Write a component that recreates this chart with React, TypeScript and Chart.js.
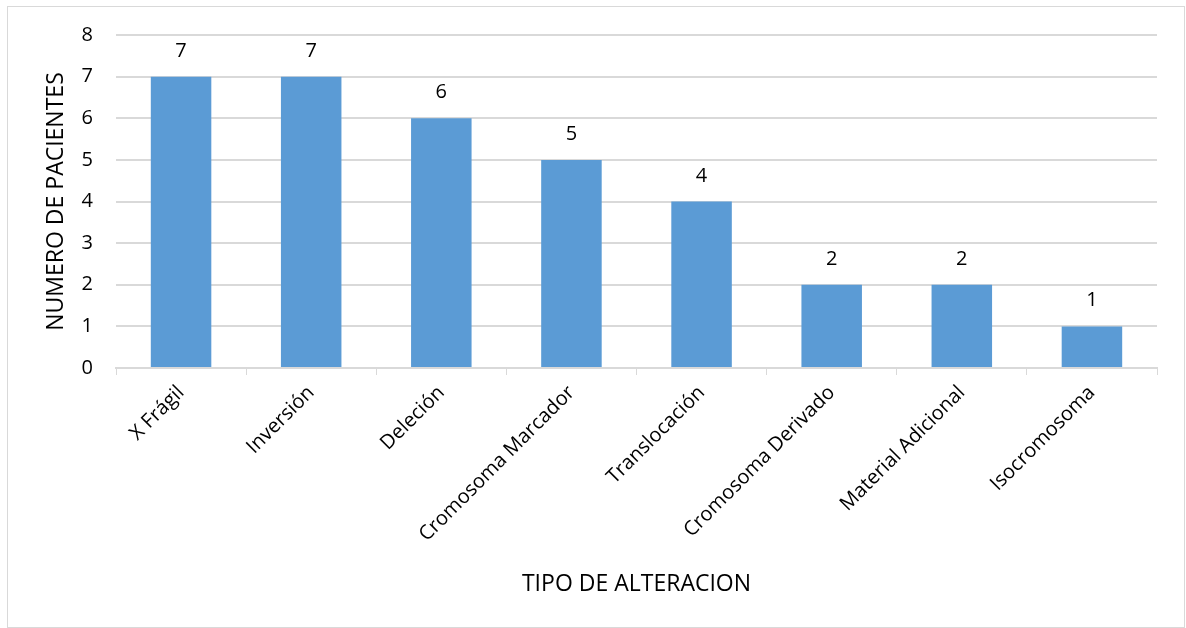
import React, { useEffect, useRef } from "react";
import { Chart, registerables } from "chart.js";

Chart.register(...registerables);

const categories = [
  "X Frágil",
  "Inversión",
  "Deleción",
  "Cromosoma Marcador",
  "Translocación",
  "Cromosoma Derivado",
  "Material Adicional",
  "Isocromosoma",
];
const pacientes = [7, 7, 6, 5, 4, 2, 2, 1];
const yTicks = [0, 1, 2, 3, 4, 5, 6, 7, 8];

const FONT = "'Open Sans', 'Liberation Sans', sans-serif";
const GRID = "#d9d9d9";

const frameAndLabels = {
  id: "frameAndLabels",
  beforeDraw(chart: any) {
    const { ctx, width, height } = chart;
    ctx.save();
    ctx.fillStyle = "#ffffff";
    ctx.fillRect(0, 0, width, height);
    ctx.strokeStyle = GRID;
    ctx.lineWidth = 1;
    ctx.strokeRect(7.5, 6.5, width - 9, height - 7);
    ctx.restore();
  },
  afterDatasetsDraw(chart: any) {
    const { ctx } = chart;
    const meta = chart.getDatasetMeta(0);
    ctx.save();
    ctx.fillStyle = "#000000";
    ctx.font = `20px ${FONT}`;
    ctx.textAlign = "center";
    ctx.textBaseline = "alphabetic";
    meta.data.forEach((bar: any, i: number) => {
      ctx.fillText(String(pacientes[i]), bar.x, bar.y - 20);
    });
    ctx.restore();
  },
};

export default function App() {
  const ref = useRef<HTMLCanvasElement>(null);
  useEffect(() => {
    if (!ref.current) return;
    const chart = new Chart(ref.current, {
      type: "bar",
      data: {
        labels: categories,
        datasets: [
          {
            data: pacientes,
            backgroundColor: "#5b9bd5",
            borderWidth: 0,
            categoryPercentage: 1,
            barPercentage: 0.465,
          },
        ],
      },
      options: {
        responsive: false,
        animation: false,
        layout: { padding: { top: 34, right: 29, left: 0, bottom: 0 } },
        plugins: {
          legend: { display: false },
          tooltip: { enabled: false },
        },
        scales: {
          x: {
            afterFit: (s: any) => {
              s.height = 260;
            },
            grid: {
              drawOnChartArea: false,
              drawTicks: true,
              tickLength: 7,
              color: GRID,
              offset: true,
            },
            border: { display: true, color: GRID, width: 2 },
            ticks: {
              color: "#000",
              font: { family: FONT, size: 20 },
              minRotation: 45,
              maxRotation: 45,
              padding: 6,
              autoSkip: false,
            },
            title: {
              display: true,
              text: "TIPO DE ALTERACION",
              color: "#000",
              font: { family: FONT, size: 23 },
              padding: { top: 0, bottom: 30 },
            },
          },
          y: {
            min: 0,
            max: 8,
            afterFit: (s: any) => {
              s.width = 116;
            },
            afterBuildTicks: (s: any) => {
              s.ticks = yTicks.map((v) => ({ value: v }));
            },
            grid: { color: GRID, lineWidth: 2, drawTicks: false },
            border: { display: false },
            ticks: {
              color: "#000",
              font: { family: FONT, size: 20 },
              padding: 23,
            },
            title: {
              display: true,
              text: "NUMERO DE PACIENTES",
              color: "#000",
              font: { family: FONT, size: 23 },
              padding: { top: 43, bottom: 0 },
            },
          },
        },
      },
      plugins: [frameAndLabels],
    });
    return () => chart.destroy();
  }, []);
  return (
    <canvas
      ref={ref}
      width={1186}
      height={628}
      style={{ position: "absolute", left: 0, top: 0, display: "block" }}
    />
  );
}
